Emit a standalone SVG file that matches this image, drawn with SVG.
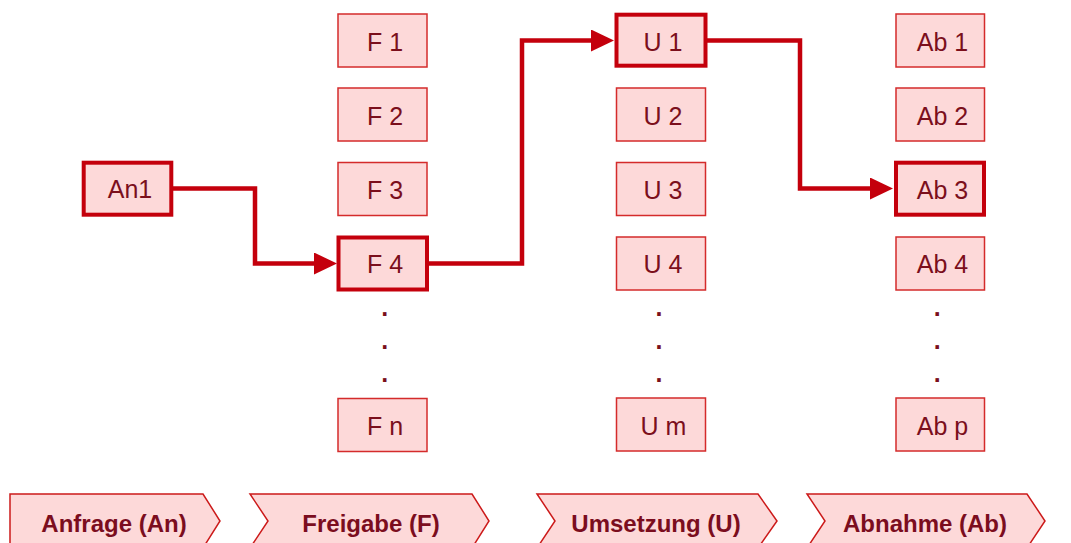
<svg xmlns="http://www.w3.org/2000/svg" width="1071" height="543" viewBox="0 0 1071 543">
<style>
.box{fill:#fdd9d9;stroke:#d42b2b;stroke-width:1.5}
.sel{fill:#fdd9d9;stroke:#c4000c;stroke-width:4}
.t{font-family:"Liberation Sans",Arial,sans-serif;font-size:25px;fill:#7b0f1c;text-anchor:middle}
.dot{font-family:"Liberation Sans",Arial,sans-serif;font-size:25px;font-weight:bold;fill:#7b0f1c;text-anchor:middle}
.ph{fill:#fdd9d9;stroke:#cc1a1a;stroke-width:1.5}
.pt{font-family:"Liberation Sans",Arial,sans-serif;font-size:24px;font-weight:bold;fill:#7b0d1e;text-anchor:middle}
.con{fill:none;stroke:#c4000c;stroke-width:4.5;marker-end:url(#arr)}
</style>
<defs>
<marker id="arr" markerUnits="userSpaceOnUse" viewBox="0 0 23 22" refX="2" refY="11" markerWidth="23" markerHeight="22" orient="auto">
<path d="M0,0 L23,11 L0,22 z" fill="#c4000c"/>
</marker>
</defs>

<g id="phases">
<g id="phase-an"><polygon class="ph" points="10,494 203,494 220,521 203,548 10,548"/><text class="pt" x="114" y="531.5">Anfrage (An)</text></g>
<g id="phase-f"><polygon class="ph" points="250,494 472,494 489,521 472,548 250,548 268,521"/><text class="pt" x="371" y="531.5">Freigabe (F)</text></g>
<g id="phase-u"><polygon class="ph" points="537,494 758,494 777,521 758,548 537,548 555,521"/><text class="pt" x="656" y="531.5">Umsetzung (U)</text></g>
<g id="phase-ab"><polygon class="ph" points="807,494 1027,494 1045,521 1027,548 807,548 825,521"/><text class="pt" x="925" y="531.5">Abnahme (Ab)</text></g>
</g>

<g id="connectors">
<path class="con" d="M173,188.5 H255 V263.5 H316"/>
<path class="con" d="M428,263.5 H522 V40.5 H593"/>
<path class="con" d="M707,40.5 H800 V188.5 H872"/>
</g>

<g id="An1"><rect class="sel" x="83.7" y="162.7" width="87.6" height="52"/><text class="t" x="130" y="197.5">An1</text></g>

<g id="F1"><rect class="box" x="338" y="14" width="89" height="53"/><text class="t" x="385" y="50.5">F 1</text></g>
<g id="F2"><rect class="box" x="338" y="88" width="89" height="53"/><text class="t" x="385" y="124.5">F 2</text></g>
<g id="F3"><rect class="box" x="338" y="162.5" width="89" height="53"/><text class="t" x="385" y="198.5">F 3</text></g>
<g id="F4"><rect class="sel" x="338.5" y="237.5" width="88.5" height="52"/><text class="t" x="385" y="273">F 4</text></g>
<g id="Fdots"><text class="dot" x="384.7" y="316">.</text><text class="dot" x="384.7" y="349">.</text><text class="dot" x="384.7" y="382">.</text></g>
<g id="Fn"><rect class="box" x="338" y="398.5" width="89" height="53"/><text class="t" x="385" y="434.5">F n</text></g>

<g id="U1"><rect class="sel" x="616.5" y="14.7" width="89" height="51"/><text class="t" x="663" y="50.5">U 1</text></g>
<g id="U2"><rect class="box" x="616.5" y="88" width="89" height="53"/><text class="t" x="663" y="124.5">U 2</text></g>
<g id="U3"><rect class="box" x="616.5" y="162.5" width="89" height="53"/><text class="t" x="663" y="198.5">U 3</text></g>
<g id="U4"><rect class="box" x="616.5" y="237" width="89" height="53"/><text class="t" x="663" y="273">U 4</text></g>
<g id="Udots"><text class="dot" x="659" y="316">.</text><text class="dot" x="659" y="349">.</text><text class="dot" x="659" y="382">.</text></g>
<g id="Um"><rect class="box" x="616.5" y="398" width="89" height="53"/><text class="t" x="663.5" y="434.5">U m</text></g>

<g id="Ab1"><rect class="box" x="896" y="14" width="88.5" height="53"/><text class="t" x="942.5" y="50.5">Ab 1</text></g>
<g id="Ab2"><rect class="box" x="896" y="88" width="88.5" height="53"/><text class="t" x="942.5" y="124.5">Ab 2</text></g>
<g id="Ab3"><rect class="sel" x="896" y="162.7" width="88" height="52"/><text class="t" x="942.5" y="198.5">Ab 3</text></g>
<g id="Ab4"><rect class="box" x="896" y="237" width="88.5" height="53"/><text class="t" x="942.5" y="273">Ab 4</text></g>
<g id="Abdots"><text class="dot" x="937.3" y="316">.</text><text class="dot" x="937.3" y="349">.</text><text class="dot" x="937.3" y="382">.</text></g>
<g id="Abp"><rect class="box" x="896" y="398" width="88.5" height="53"/><text class="t" x="942.5" y="434.5">Ab p</text></g>
</svg>
